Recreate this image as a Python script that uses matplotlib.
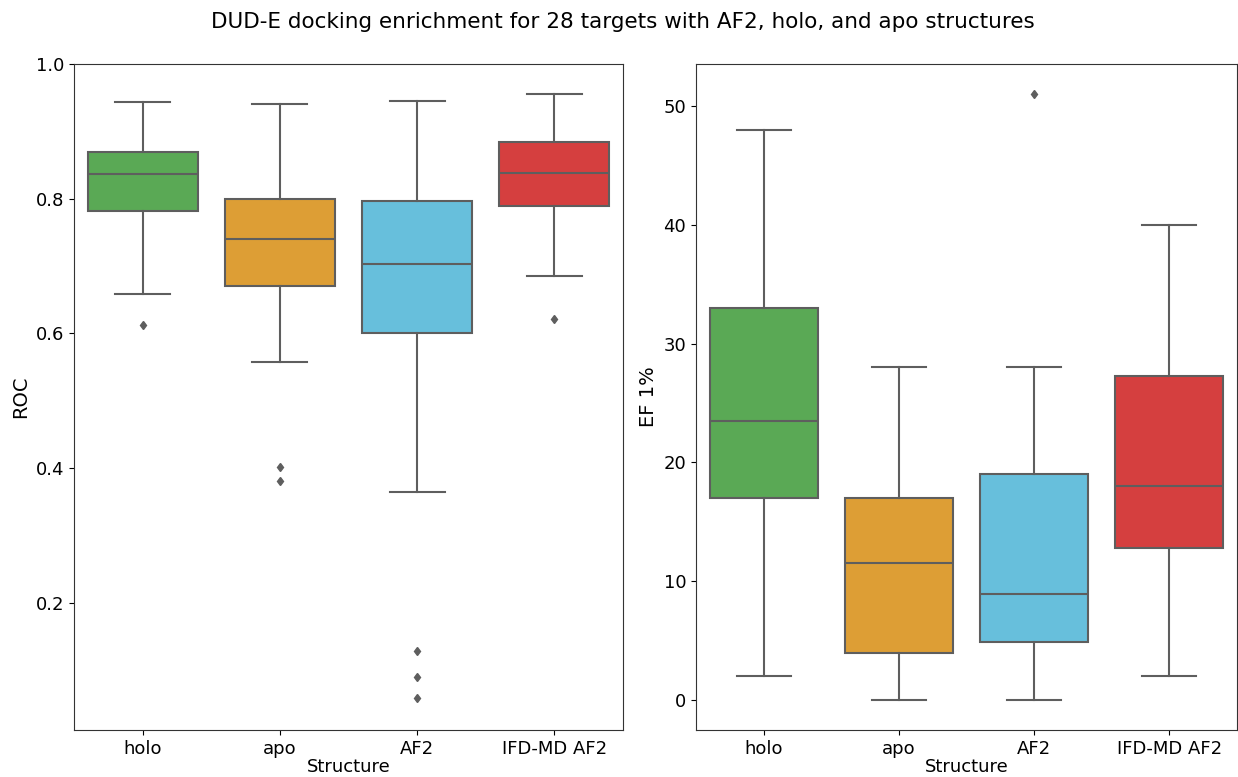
import matplotlib
matplotlib.use("Agg")
import matplotlib.pyplot as plt

structures = ["holo", "apo", "AF2", "IFD-MD AF2"]
colors = ["#5aa955", "#dd9e35", "#67bfdc", "#d53f3f"]

# ROC summary per structure: lower whisker, Q1, median, Q3, upper whisker
roc_whislo = [0.659, 0.557, 0.364, 0.685]
roc_q1 = [0.781, 0.670, 0.600, 0.789]
roc_med = [0.836, 0.740, 0.703, 0.838]
roc_q3 = [0.869, 0.800, 0.797, 0.884]
roc_whishi = [0.943, 0.941, 0.945, 0.956]
roc_fliers = [[0.612], [0.402, 0.381], [0.128, 0.089, 0.058], [0.621]]

# EF 1% summary per structure
ef_whislo = [2.0, 0.0, 0.0, 2.0]
ef_q1 = [17.0, 3.9, 4.9, 12.8]
ef_med = [23.5, 11.5, 8.9, 18.0]
ef_q3 = [33.0, 17.0, 19.0, 27.3]
ef_whishi = [48.0, 28.0, 28.0, 40.0]
ef_fliers = [[], [], [51.0], []]

line_gray = "#5e5e5e"


def make_stats(whislo, q1, med, q3, whishi, fliers):
    stats = []
    for i in range(len(structures)):
        stats.append({
            "whislo": whislo[i], "q1": q1[i], "med": med[i],
            "q3": q3[i], "whishi": whishi[i], "fliers": fliers[i],
        })
    return stats


def draw_boxes(ax, stats):
    pos = list(range(len(structures)))
    bp = ax.bxp(stats, positions=pos, widths=0.8, patch_artist=True,
                showfliers=True,
                boxprops=dict(edgecolor=line_gray, linewidth=1.5),
                medianprops=dict(color=line_gray, linewidth=1.5),
                whiskerprops=dict(color=line_gray, linewidth=1.5),
                capprops=dict(color=line_gray, linewidth=1.5),
                flierprops=dict(marker="d", markersize=4.5,
                                markerfacecolor=line_gray,
                                markeredgecolor=line_gray))
    for patch, c in zip(bp["boxes"], colors):
        patch.set_facecolor(c)
    for cap in bp["caps"]:
        xd = cap.get_xdata()
        mid = (xd[0] + xd[1]) / 2
        cap.set_xdata([mid - 0.2, mid + 0.2])
    ax.set_xticks(pos)
    ax.set_xticklabels(structures)
    ax.set_xlim(-0.5, len(structures) - 0.5)
    ax.set_xlabel("Structure", fontsize=13, labelpad=0)
    ax.tick_params(labelsize=13)
    for s in ax.spines.values():
        s.set_color("#333333")


fig = plt.figure(figsize=(12.38, 7.77), dpi=100)
ax1 = fig.add_axes([74 / 1238, 47 / 777, 549 / 1238, 666 / 777])
ax2 = fig.add_axes([696 / 1238, 47 / 777, 541 / 1238, 666 / 777])

draw_boxes(ax1, make_stats(roc_whislo, roc_q1, roc_med, roc_q3, roc_whishi, roc_fliers))
ax1.set_ylim(0.011, 1.0)
ax1.set_yticks([0.2, 0.4, 0.6, 0.8, 1.0])
ax1.set_ylabel("ROC", fontsize=14)

draw_boxes(ax2, make_stats(ef_whislo, ef_q1, ef_med, ef_q3, ef_whishi, ef_fliers))
ax2.set_ylim(-2.55, 53.55)
ax2.set_yticks([0, 10, 20, 30, 40, 50])
ax2.set_ylabel("EF 1%", fontsize=14)

fig.suptitle("DUD-E docking enrichment for 28 targets with AF2, holo, and apo structures",
             fontsize=15.5, x=0.503, y=0.985)

fig.savefig("out.png", dpi=100)
